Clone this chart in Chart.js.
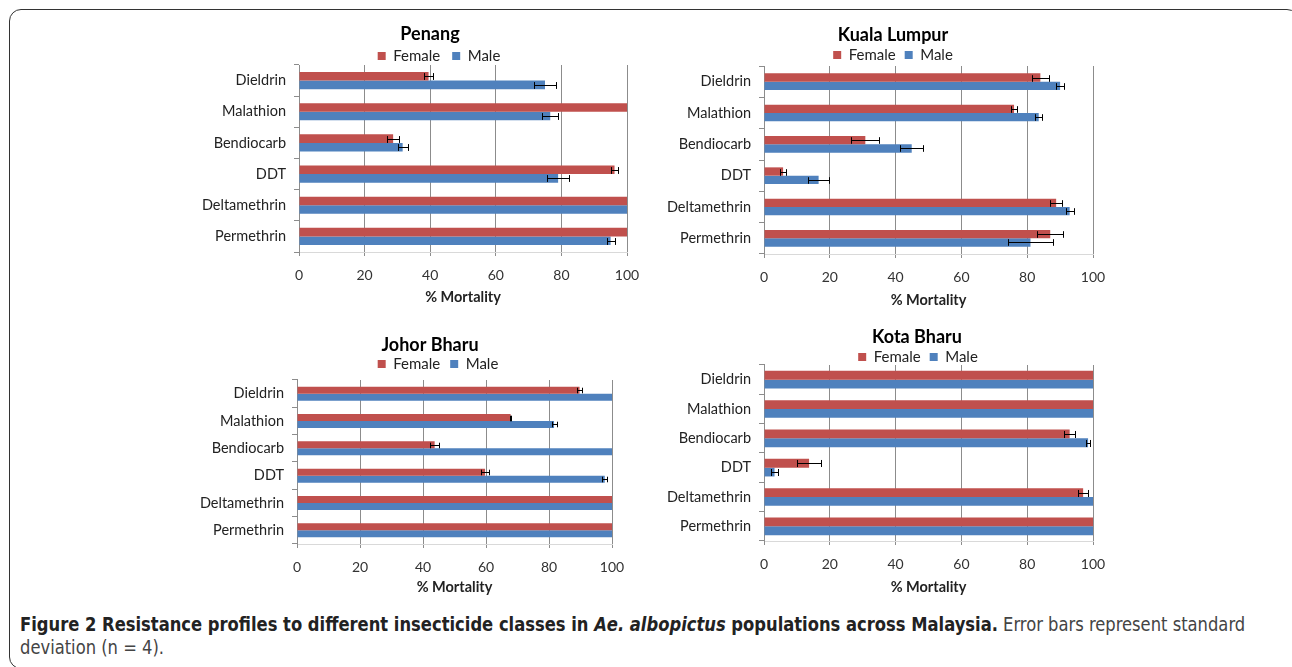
<!DOCTYPE html>
<html>
<head>
<meta charset="utf-8">
<script src="https://cdn.jsdelivr.net/npm/chart.js@4.4.1/dist/chart.umd.min.js"></script>
<style>
  body { margin: 0; background: #fff; width: 1292px; height: 667px; overflow: hidden; position: relative; }
  .frame { position: absolute; left: 9px; top: 9px; width: 1290px; height: 660px; border: 1.5px solid #333; border-radius: 12px; box-sizing: border-box; }
  canvas { position: absolute; }
  #caption { position: absolute; left: 20px; top: 613px; white-space: nowrap; font-family: "Liberation Sans Narrow", "DejaVu Sans Condensed", sans-serif; font-size: 19px; line-height: 23px; color: #444; transform-origin: 0 0; }
  #caption b { color: #222; }
</style>
</head>
<body>
<div class="frame"></div>
<canvas id="penang"></canvas>
<canvas id="kl"></canvas>
<canvas id="jb"></canvas>
<canvas id="kb"></canvas>
<div id="caption"><b>Figure 2 Resistance profiles to different insecticide classes in <i>Ae. albopictus</i> populations across Malaysia.</b> Error bars represent standard<br>deviation (n = 4).</div>
<script>
// categories, top to bottom
const insecticides = ['Dieldrin', 'Malathion', 'Bendiocarb', 'DDT', 'Deltamethrin', 'Permethrin'];
const xTicks = [0, 20, 40, 60, 80, 100];

// % mortality and standard deviation
const penangFemale   = [39.5, 100, 28.7, 96.2, 100, 100];
const penangFemaleSd = [1.5, 0, 1.8, 1.2, 0, 0];
const penangMale     = [75, 76.6, 31.6, 79, 100, 95];
const penangMaleSd   = [3.3, 2.4, 1.5, 3.3, 0, 1.2];

const klFemale   = [84, 76, 30.8, 5.8, 88.8, 87];
const klFemaleSd = [2.6, 1, 4.3, 1, 1.8, 4];
const klMale     = [90, 83.5, 44.9, 16.6, 92.9, 81];
const klMaleSd   = [1.3, 1, 3.5, 3.3, 1.2, 6.7];

const jbFemale   = [89.7, 67.8, 43.7, 59.7, 100, 100];
const jbFemaleSd = [0.9, 0.2, 1.4, 1.3, 0, 0];
const jbMale     = [100, 81.6, 100, 97.7, 100, 100];
const jbMaleSd   = [0, 0.8, 0, 0.8, 0, 0];

const kbFemale   = [100, 100, 92.9, 13.7, 97, 100];
const kbFemaleSd = [0, 0, 1.6, 3.7, 1.5, 0];
const kbMale     = [100, 100, 98.5, 3.2, 100, 100];
const kbMaleSd   = [0, 0, 0.5, 1.1, 0, 0];

const red = '#C0504D';
const blue = '#4F81BD';
const gridCol = '#8c8c8c';
const titleSize = 18, legendSize = 15, axisTitleSize = 14.5;

// draws +/- sd whiskers on each bar
const errorBars = {
  id: 'errorBars',
  afterDatasetsDraw(chart) {
    const ctx = chart.ctx;
    const xs = chart.scales.x;
    ctx.save();
    ctx.strokeStyle = '#000';
    ctx.lineWidth = 1;
    chart.data.datasets.forEach((ds, d) => {
      const meta = chart.getDatasetMeta(d);
      meta.data.forEach((bar, j) => {
        const sd = ds.errors[j];
        if (!sd) return;
        const v = ds.data[j];
        const x1 = Math.round(xs.getPixelForValue(v - sd)) + 0.5;
        const x2 = Math.round(xs.getPixelForValue(v + sd)) + 0.5;
        const y = Math.round(bar.y) + 0.5;
        const h = bar.height * 0.4;
        ctx.beginPath();
        ctx.moveTo(x1, y); ctx.lineTo(x2, y);
        ctx.moveTo(x1, y - h); ctx.lineTo(x1, y + h);
        ctx.moveTo(x2, y - h); ctx.lineTo(x2, y + h);
        ctx.stroke();
      });
    });
    ctx.restore();
  }
};

// box: plot area in page pixels + title/legend centres
function makePanel(id, title, female, femaleSd, male, maleSd, box) {
  const yW = 110;
  const left = box.plotL - yW;
  const right = 2 * box.titleCx - left;
  const top = Math.round(box.titleCy - titleSize * 0.6);
  const bottom = Math.round(box.axisTitleCy + axisTitleSize * 0.6);
  const legendTop = top + titleSize * 1.2;
  const legendPad = box.legendGap;
  const shift = box.legendCy - (legendTop + legendPad + legendSize / 2);
  const trim = legendTop + legendSize + legendPad + 10 - box.plotT;
  const dx = box.legendDx;

  const cv = document.getElementById(id);
  cv.style.left = left + 'px';
  cv.style.top = top + 'px';
  cv.width = right - left;
  cv.height = bottom - top;

  // legend sits closer to the plot than Chart.js allows
  const legendTrim = {
    id: 'legendTrim',
    beforeUpdate(chart) {
      const lg = chart.legend;
      if (lg && !lg._trimmed) {
        const fit = lg.fit;
        const draw = lg.draw;
        lg.fit = function () { fit.call(this); this.height -= trim; };
        lg.draw = function () {
          const t = this.top, b = this.bottom, l = this.left, r = this.right;
          this.top = t + shift;
          this.bottom = b + trim + shift + 10;
          this.left = l + dx;
          this.right = r + dx;
          draw.call(this);
          this.top = t; this.bottom = b; this.left = l; this.right = r;
        };
        lg._trimmed = true;
      }
    }
  };

  new Chart(cv, {
    type: 'bar',
    data: {
      labels: insecticides,
      datasets: [
        { label: 'Female', data: female, errors: femaleSd, backgroundColor: red, xAxisID: 'x', yAxisID: 'y' },
        { label: 'Male', data: male, errors: maleSd, backgroundColor: blue, xAxisID: 'x', yAxisID: 'y' }
      ]
    },
    options: {
      indexAxis: 'y',
      responsive: false,
      animation: false,
      layout: { padding: 0 },
      datasets: { bar: { categoryPercentage: box.catPct, barPercentage: 1 } },
      plugins: {
        title: { display: true, text: title, color: '#000', font: { family: 'Lato', size: titleSize, weight: 'bold' }, padding: 0 },
        legend: { labels: { boxWidth: 8, boxHeight: 8, color: '#222', font: { family: 'Lato', size: legendSize }, padding: legendPad } },
        tooltip: { enabled: false }
      },
      scales: {
        x: {
          min: 0, max: 100,
          afterBuildTicks: s => { s.ticks = xTicks.map(v => ({ value: v })); },
          grid: { color: gridCol, tickLength: 4 },
          border: { display: true, color: '#d9d9d9' },
          ticks: { color: '#333', font: { family: 'Lato', size: 14 }, padding: 11 },
          title: { display: true, text: '% Mortality', color: '#222', font: { family: 'Lato', size: axisTitleSize, weight: 'bold' }, padding: 0 },
          afterFit: s => { s.height = bottom - box.plotB; }
        },
        y: {
          grid: { drawOnChartArea: false, offset: true, tickLength: 5, color: gridCol },
          border: { color: gridCol },
          ticks: { color: '#222', font: { family: 'Lato', size: 14.5 }, padding: 8 },
          afterFit: s => { s.width = yW; }
        },
        gap: {
          type: 'linear', position: 'right',
          grid: { display: false }, border: { display: false }, ticks: { display: false },
          afterFit: s => { s.width = right - box.plotR; }
        }
      }
    },
    plugins: [legendTrim, errorBars]
  });
}

makePanel('penang', 'Penang', penangFemale, penangFemaleSd, penangMale, penangMaleSd,
  { plotL: 299, plotR: 627, plotT: 65, plotB: 252, titleCx: 430, titleCy: 34, legendCy: 56, legendGap: 12, legendDx: 9, axisTitleCy: 297, catPct: 0.55 });
makePanel('kl', 'Kuala Lumpur', klFemale, klFemaleSd, klMale, klMaleSd,
  { plotL: 764, plotR: 1093, plotT: 66, plotB: 254, titleCx: 893, titleCy: 35, legendCy: 55, legendGap: 9, legendDx: 0, axisTitleCy: 300, catPct: 0.53 });
makePanel('jb', 'Johor Bharu', jbFemale, jbFemaleSd, jbMale, jbMaleSd,
  { plotL: 297, plotR: 612, plotT: 380, plotB: 544, titleCx: 430, titleCy: 345, legendCy: 364, legendGap: 10, legendDx: 8, axisTitleCy: 587, catPct: 0.51 });
makePanel('kb', 'Kota Bharu', kbFemale, kbFemaleSd, kbMale, kbMaleSd,
  { plotL: 764, plotR: 1093, plotT: 365, plotB: 541, titleCx: 917, titleCy: 337, legendCy: 357, legendGap: 9, legendDx: 1, axisTitleCy: 587, catPct: 0.6 });

// squeeze the caption to the condensed width of the original
const capDiv = document.getElementById('caption');
const capBold = capDiv.querySelector('b');
const sx = 978 / capBold.getBoundingClientRect().width;
capDiv.style.transform = 'scaleX(' + sx.toFixed(3) + ')';
</script>
</body>
</html>
